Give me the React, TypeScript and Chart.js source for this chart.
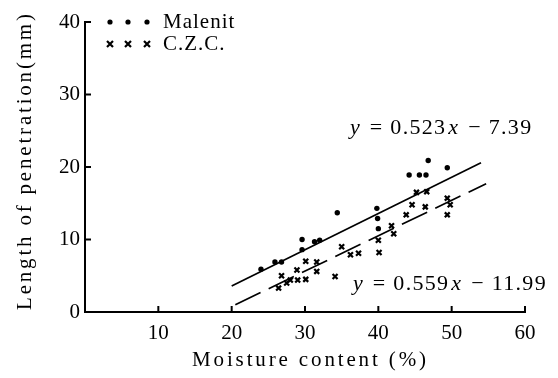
import { useEffect, useRef } from "react";
import { Chart, registerables } from "chart.js";

Chart.register(...registerables);

// Malenit measurements (moisture %, penetration mm)
const malenitX = [24.0, 25.9, 26.8, 29.6, 29.6, 31.3, 32.0, 34.4, 39.8, 39.9, 40.0, 44.2, 45.6, 46.5, 46.8, 49.4];
const malenitY = [5.9, 6.9, 6.9, 8.6, 10.0, 9.7, 9.9, 13.7, 14.3, 12.9, 11.5, 18.9, 18.9, 18.9, 20.9, 19.9];

// C.Z.C. measurements
const czcX = [26.4, 26.8, 27.5, 28.0, 28.9, 29.0, 30.1, 30.1, 31.6, 31.6, 34.1, 35.0, 36.2, 37.3, 40.0, 40.1, 41.8, 42.1, 43.8, 44.6, 45.2, 46.4, 46.6, 49.4, 49.8, 49.4];
const czcY = [3.3, 5.0, 4.0, 4.4, 5.8, 4.4, 7.0, 4.5, 6.9, 5.6, 4.9, 9.0, 7.9, 8.1, 9.9, 8.2, 11.9, 10.8, 13.4, 14.8, 16.5, 14.5, 16.6, 15.7, 14.8, 13.4];

// Regression lines as drawn
const malenitLineX = [20, 54];
const malenitLineY = [3.6, 20.6];
const czcLineX = [20.5, 54.7];
const czcLineY = [1.0, 17.7];

const xTicks = [10, 20, 30, 40, 50, 60];
const yTicks = [0, 10, 20, 30, 40];
const seriesNames = ["Malenit", "C.Z.C."];
const xTitle = "Moisture content (%)";
const yTitle = "Length of penetration(mm)";
const eqMalenit = ["y", " = 0.523", "x", " \u2212 7.39"];
const eqCzc = ["y", " = 0.559", "x", " \u2212 11.99"];

const SERIF = "'Liberation Serif', 'Times New Roman', serif";

function spacedText(ctx: any, text: string, cx: number, cy: number, target: number, font: string) {
  ctx.font = font;
  ctx.letterSpacing = "0px";
  const w = ctx.measureText(text).width;
  const sp = Math.max(0, (target - w) / Math.max(1, text.length - 1));
  ctx.letterSpacing = `${sp}px`;
  ctx.textAlign = "left";
  ctx.textBaseline = "middle";
  ctx.fillText(text, cx - target / 2, cy);
  ctx.letterSpacing = "0px";
}

const decorPlugin = {
  id: "decor",
  afterDraw(chart: any) {
    const { ctx, chartArea, scales } = chart;
    const xs = scales.x;
    const ys = scales.y;
    ctx.save();
    ctx.strokeStyle = "#000";
    ctx.fillStyle = "#000";
    ctx.lineWidth = 2;
    // inward ticks
    xTicks.forEach((v) => {
      const px = xs.getPixelForValue(v);
      ctx.beginPath();
      ctx.moveTo(px, chartArea.bottom);
      ctx.lineTo(px, chartArea.bottom - 6);
      ctx.stroke();
    });
    yTicks.forEach((v) => {
      if (v === 0) return;
      const py = ys.getPixelForValue(v);
      ctx.beginPath();
      ctx.moveTo(chartArea.left, py);
      ctx.lineTo(chartArea.left + 6, py);
      ctx.stroke();
    });

    // axis titles
    spacedText(ctx, xTitle, 309, 360, 234, `21px ${SERIF}`);
    ctx.save();
    ctx.translate(25, 162);
    ctx.rotate(-Math.PI / 2);
    spacedText(ctx, yTitle, 0, 0, 296, `21px ${SERIF}`);
    ctx.restore();

    // legend
    const lx = [110, 128, 147];
    const rowY = [22, 44];
    lx.forEach((x) => {
      ctx.beginPath();
      ctx.arc(x, rowY[0], 2.6, 0, Math.PI * 2);
      ctx.fill();
      const s = 3;
      ctx.lineWidth = 2.2;
      ctx.beginPath();
      ctx.moveTo(x - s, rowY[1] - s);
      ctx.lineTo(x + s, rowY[1] + s);
      ctx.moveTo(x + s, rowY[1] - s);
      ctx.lineTo(x - s, rowY[1] + s);
      ctx.stroke();
    });
    ctx.textBaseline = "middle";
    ctx.textAlign = "left";
    ctx.font = `21px ${SERIF}`;
    ctx.letterSpacing = "1px";
    ctx.fillText(seriesNames[0], 163, rowY[0]);
    ctx.fillText(seriesNames[1], 163, rowY[1]);
    ctx.letterSpacing = "0px";

    // equations
    const drawEq = (parts: string[], x: number, y: number) => {
      let cx = x;
      ctx.letterSpacing = "1.3px";
      parts.forEach((p, i) => {
        ctx.font = (i % 2 === 0 ? "italic " : "") + `22px ${SERIF}`;
        ctx.fillText(p, cx, y);
        cx += ctx.measureText(p).width + 2;
      });
      ctx.letterSpacing = "0px";
    };
    drawEq(eqMalenit, 350, 128);
    drawEq(eqCzc, 353, 284);
    ctx.restore();
  },
};

export default function App() {
  const ref = useRef<HTMLCanvasElement>(null);
  useEffect(() => {
    document.body.style.margin = "0";
    const toPts = (xa: number[], ya: number[]) => xa.map((x, i) => ({ x, y: ya[i] }));
    const chart = new Chart(ref.current!, {
      type: "scatter",
      data: {
        datasets: [
          {
            label: seriesNames[0],
            data: toPts(malenitX, malenitY),
            pointStyle: "circle",
            pointRadius: 2.7,
            backgroundColor: "#000",
            borderColor: "#000",
            borderWidth: 0,
          },
          {
            label: seriesNames[1],
            data: toPts(czcX, czcY),
            pointStyle: "crossRot",
            pointRadius: 3.5,
            borderColor: "#000",
            borderWidth: 2.2,
          },
          {
            label: "fit1",
            data: toPts(malenitLineX, malenitLineY),
            showLine: true,
            pointRadius: 0,
            borderColor: "#000",
            borderWidth: 1.7,
          },
          {
            label: "fit2",
            data: toPts(czcLineX, czcLineY),
            showLine: true,
            pointRadius: 0,
            borderColor: "#000",
            borderWidth: 1.7,
            borderDash: [28, 9],
          },
        ],
      },
      options: {
        animation: false,
        responsive: false,
        layout: { padding: { top: 22, right: 33, left: 0, bottom: 0 } },
        plugins: { legend: { display: false }, tooltip: { enabled: false } },
        scales: {
          x: {
            type: "linear",
            min: 0,
            max: 60,
            afterFit: (s: any) => {
              s.height = 66;
            },
            ticks: {
              stepSize: 10,
              color: "#000",
              padding: 9,
              font: { family: SERIF, size: 21 },
              callback: (v: any) => (v === 0 ? "" : String(v)),
            },
            grid: { drawOnChartArea: false, drawTicks: false },
            border: { display: true, color: "#000", width: 2 },
          },
          y: {
            type: "linear",
            min: 0,
            max: 40,
            afterFit: (s: any) => {
              s.width = 85;
            },
            ticks: {
              stepSize: 10,
              color: "#000",
              padding: 5,
              font: { family: SERIF, size: 21 },
            },
            grid: { drawOnChartArea: false, drawTicks: false },
            border: { display: true, color: "#000", width: 2 },
          },
        },
      },
      plugins: [decorPlugin],
    });
    return () => chart.destroy();
  }, []);
  return <canvas ref={ref} width={558} height={378} />;
}
